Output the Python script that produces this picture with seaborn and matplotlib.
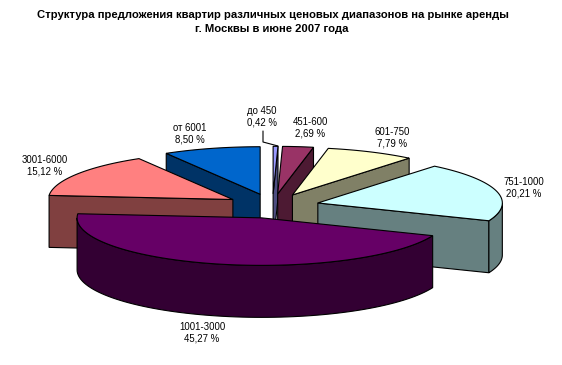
import numpy as np
import matplotlib
matplotlib.use('Agg')
import matplotlib.pyplot as plt
from matplotlib.patches import Polygon
import seaborn as sns

title_lines = ["Структура предложения квартир различных ценовых диапазонов на рынке аренды",
               "г. Москвы в июне 2007 года"]
ranges = ["до 450", "451-600", "601-750", "751-1000", "1001-3000", "3001-6000", "от 6001"]
shares = [0.42, 2.69, 7.79, 20.21, 45.27, 15.12, 8.50]
top_colors = ["#9999FF", "#993366", "#FFFFCC", "#CCFFFF", "#660066", "#FF8080", "#0066CC"]
side_colors = ["#4D4D80", "#4D1A33", "#808066", "#668080", "#330033", "#804040", "#003366"]
# label centres in pixels
label_x = [262, 310, 392, 524, 202, 45, 190]
label_y = [117, 128, 138, 188, 333, 166, 134]

# pie geometry in pixels, fitted to the picture
CX, CY = 272.5, 206
RX, RY = 184.5, 47.5
EX, EY = 46.8, 12.2
DEPTH = 52

sns.set_theme(style="white")
plt.rcParams['font.family'] = ['Liberation Sans', 'DejaVu Sans']

fig, ax = plt.subplots(figsize=(5.62, 3.65), dpi=100)
ax.set_position([0, 0, 1, 1])
ax.set_xlim(0, 562)
ax.set_ylim(365, 0)
ax.axis('off')


def rim(ox, oy, a):
    # point of the slice rim, a in radians clockwise from the top
    return np.column_stack([ox + RX * np.sin(a), oy - RY * np.cos(a)])


def face(pts, color, z):
    ax.add_patch(Polygon(pts, closed=True, facecolor=color, edgecolor='black',
                         linewidth=0.8, joinstyle='miter', zorder=z))


# slices in the order they overlap, back to front
order = [6, 0, 1, 2, 5, 3, 4]
edges = np.deg2rad(np.concatenate([[0], np.cumsum(shares)]) * 3.6)

for z, i in enumerate(order):
    a0, a1 = edges[i], edges[i + 1]
    mid = (a0 + a1) / 2
    ox = CX + EX * np.sin(mid)
    oy = CY - EY * np.cos(mid)
    apex = np.array([[ox, oy]])
    drop = np.array([0, DEPTH])
    z0 = z * 10

    # cut faces which look towards the viewer
    for a, visible in ((a0, np.sin(a0) < 0), (a1, np.sin(a1) > 0)):
        if visible:
            p = rim(ox, oy, np.array([a]))
            face(np.vstack([apex, p, p + drop, apex + drop]), side_colors[i], z0 + 1)

    # outer wall, only the front half of the ellipse
    lo, hi = max(a0, np.pi / 2), min(a1, 3 * np.pi / 2)
    if hi > lo:
        arc = rim(ox, oy, np.linspace(lo, hi, 80))
        face(np.vstack([arc, (arc + drop)[::-1]]), side_colors[i], z0 + 2)

    # top
    arc = rim(ox, oy, np.linspace(a0, a1, 100))
    face(np.vstack([apex, arc]), top_colors[i], z0 + 3)

for name, val, x, y in zip(ranges, shares, label_x, label_y):
    txt = "{}\n{:.2f} %".format(name, val).replace('.', ',')
    ax.text(x, y, txt, ha='center', va='center', fontsize=6.9, color='black',
            linespacing=1.15, zorder=200)

# leader line for the smallest slice
ax.plot([263, 263, 278], [131, 142, 146], color='black', lw=0.8, zorder=200)

ax.text(272.5, 15, title_lines[0], ha='center', va='center', fontsize=8.15,
        fontweight='bold', color='black', zorder=200)
ax.text(272, 29, title_lines[1], ha='center', va='center', fontsize=8.15,
        fontweight='bold', color='black', zorder=200)

fig.savefig('out.png', dpi=100, facecolor='white')
